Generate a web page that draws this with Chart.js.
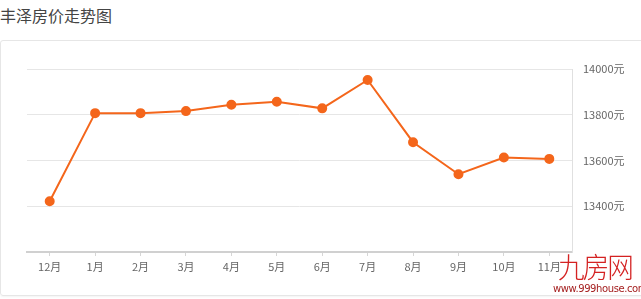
<!DOCTYPE html>
<html>
<head>
<meta charset="utf-8">
<script src="https://cdn.jsdelivr.net/npm/chart.js@4/dist/chart.umd.min.js"></script>
<style>
html,body{margin:0;padding:0;background:#fff;overflow:hidden;}
#wrap{position:relative;width:641px;height:299px;font-family:"Noto Sans CJK SC","Noto Sans",sans-serif;}
#title{position:absolute;left:0;top:3px;font-size:16px;color:#444;line-height:24px;}
#card{position:absolute;left:0;top:40px;width:660px;height:254px;border:1px solid #e6e6e6;border-radius:3px;box-shadow:0 1px 2px rgba(0,0,0,0.05);}
#cv{position:absolute;left:0;top:0;}
#mark{position:absolute;left:553px;top:250px;width:84px;text-align:center;color:#d42222;white-space:nowrap;}
#mark .big{font-size:28px;line-height:33px;letter-spacing:-2px;font-weight:300;transform:scaleX(0.95);}
#mark .small{font-size:10px;line-height:11px;color:#a52020;font-family:"DejaVu Sans",sans-serif;letter-spacing:-0.4px;}
</style>
</head>
<body>
<div id="wrap">
<div id="title">丰泽房价走势图</div>
<div id="card"></div>
<canvas id="cv" width="641" height="299"></canvas>
<div id="mark"><div class="big">九房网</div><div class="small">www.999house.com</div></div>
</div>
<script>
const months = ['12月','1月','2月','3月','4月','5月','6月','7月','8月','9月','10月','11月'];
const prices = [13422,13807,13807,13816,13844,13857,13828,13952,13680,13540,13613,13607];
const yMin = 13200, yMax = 14000, yStep = 200;

const ctx = document.getElementById('cv').getContext('2d');
new Chart(ctx, {
  type:'line',
  data:{labels:months, datasets:[{label:'房价', data:prices, borderColor:'#f4661b', backgroundColor:'#f4661b', borderWidth:2, pointRadius:4, pointHoverRadius:4, tension:0}]},
  options:{
    responsive:false, animation:false,
    layout:{padding:{left:27, top:69, right:0, bottom:0}},
    plugins:{legend:{display:false}, tooltip:{enabled:false}},
    scales:{
      x:{offset:true,
        grid:{display:true, drawOnChartArea:false, tickLength:4, color:'#d6d6d6', offset:false},
        border:{color:'#d0d0d0', width:2},
        ticks:{color:'#666', font:{size:11, family:'"Noto Sans CJK SC"'}, padding:4, maxRotation:0, autoSkip:false},
        afterFit:s=>{s.height = 299-252;}
      },
      y:{position:'right', min:yMin, max:yMax,
        grid:{color:'#e6e6e6', drawTicks:false},
        border:{color:'#e0e0e0'},
        ticks:{stepSize:yStep, color:'#666', font:{size:11, family:'"Noto Sans CJK SC"'}, padding:11,
          callback:v=> v===yMin ? '' : v+'元'},
        afterFit:s=>{s.width = 641-572;}
      }
    }
  }
});
</script>
</body>
</html>
